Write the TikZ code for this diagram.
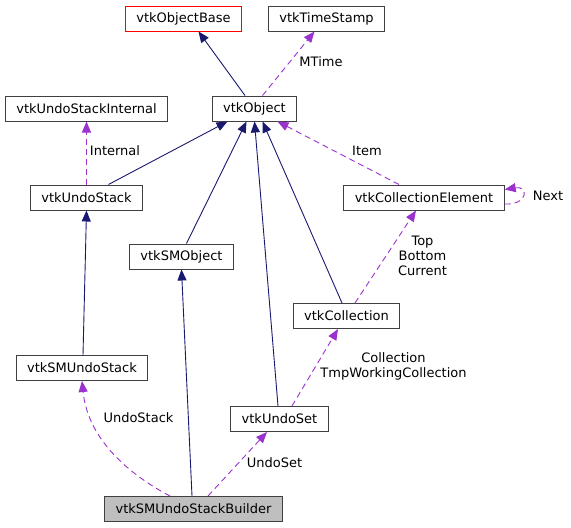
\documentclass[tikz,border=0pt]{standalone}
\usepackage{fontspec}
\setmainfont{DejaVu Sans}
\usepackage{xcolor}
\usetikzlibrary{arrows.meta}

\definecolor{inhblue}{HTML}{191970}
\definecolor{usepurple}{HTML}{9A32CD}
\definecolor{nodegray}{HTML}{BFBFBF}

\tikzset{
	cls/.style = {draw = black!75, line width = 1pt, minimum height = 25pt, inner xsep = 11pt, inner ysep = 0pt, font = \fontsize{13}{15}\selectfont},
	inh/.style = {draw = inhblue, line width = 0.9pt, -{Triangle[length = 11pt, width = 9pt]}},
	uses/.style = {draw = usepurple, line width = 0.9pt, dash pattern = on 6pt off 4pt, -{Triangle[length = 11pt, width = 9pt]}},
	lbl/.style = {font = \fontsize{13}{15}\selectfont, align = center, inner sep = 0pt}
}

\begin{document}
\begin{tikzpicture}[x = 1pt, y = -1pt]
		\useasboundingbox (0,0) rectangle (571,528);

		% classes
		\node[cls, draw = red] (base) at (183.5,18.5) {vtkObjectBase};
		\node[cls] (stamp) at (326.5,18.5) {vtkTimeStamp};
		\node[cls] (internal) at (86.5,108.5) {vtkUndoStackInternal};
		\node[cls] (object) at (254.5,108.5) {vtkObject};
		\node[cls] (undostack) at (86.5,197.5) {vtkUndoStack};
		\node[cls] (element) at (424,197.5) {vtkCollectionElement};
		\node[cls] (smobject) at (181.5,256.5) {vtkSMObject};
		\node[cls] (collection) at (346.5,316) {vtkCollection};
		\node[cls] (smundostack) at (82,368) {vtkSMUndoStack};
		\node[cls] (undoset) at (279.5,419) {vtkUndoSet};
		\node[cls, fill = nodegray] (builder) at (193.5,509) {vtkSMUndoStackBuilder};

		% inheritance
		\draw[inh] ([xshift = -9.5pt]object.north) -- ([xshift = 15pt]base.south);
		\draw[inh] ([xshift = 22pt]undostack.north) -- ([xshift = -27pt]object.south);
		\draw[inh] ([xshift = 5pt]smobject.north) -- ([xshift = -8pt]object.south);
		\draw[inh] ([xshift = -1.5pt]undoset.north) -- (object.south);
		\draw[inh] ([xshift = -4.5pt]collection.north) -- ([xshift = 8pt]object.south);
		\draw[inh] ([xshift = 1pt]smundostack.north) -- (undostack.south);
		\draw[inh] ([xshift = -1.5pt]builder.north) -- (smobject.south);

		% usage
		\draw[uses] ([xshift = 8pt]object.north) -- ([xshift = -12pt]stamp.south);
		\node[lbl] at (321,62) {MTime};
		\draw[uses] (undostack) -- (internal);
		\node[lbl] at (115,151) {Internal};
		\draw[uses] ([xshift = -25pt]element.north) -- ([xshift = 23pt]object.south);
		\node[lbl] at (367,151) {Item};
		\draw[uses] ([yshift = -6.5pt]element.east) .. controls +(24,1) and +(24,-4) .. ([yshift = 8pt]element.east);
		\node[lbl] at (548,196) {Next};
		\draw[uses] ([xshift = 8.5pt]collection.north) -- ([xshift = -8pt]element.south);
		\node[lbl] at (422.5,255.5) {Top\\Bottom\\Current};
		\draw[uses] ([xshift = 12.5pt]undoset.north) -- ([xshift = -8.5pt]collection.south);
		\node[lbl] at (393.5,366.5) {Collection\\TmpWorkingCollection};
		\draw[uses] ([xshift = -23.5pt]builder.north) .. controls (130,475) and (88,440) .. (smundostack.south);
		\node[lbl] at (138.5,418) {UndoStack};
		\draw[uses] ([xshift = 14.5pt]builder.north) -- ([xshift = -12.5pt]undoset.south);
		\node[lbl] at (274.5,463) {UndoSet};
	\end{tikzpicture}
\end{document}
